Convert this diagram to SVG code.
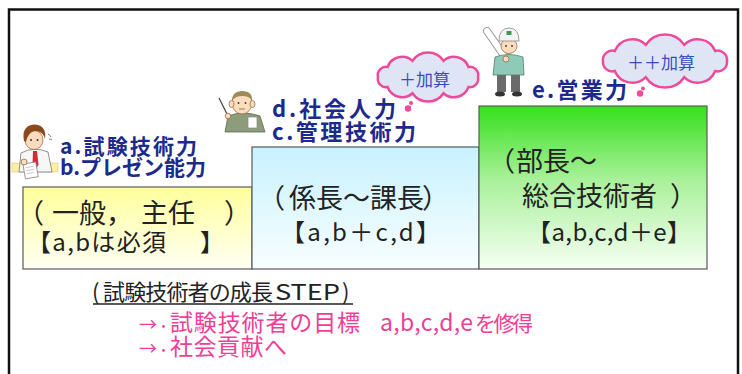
<svg xmlns="http://www.w3.org/2000/svg" width="742" height="374" viewBox="0 0 742 374">
  <defs>
    <linearGradient id="gradYellow" x1="0" y1="0" x2="0" y2="1">
      <stop offset="0" stop-color="#ffff9c"/>
      <stop offset="1" stop-color="#fffff4"/>
    </linearGradient>
    <linearGradient id="gradCyan" x1="0" y1="0" x2="0" y2="1">
      <stop offset="0" stop-color="#c8f2ff"/>
      <stop offset="1" stop-color="#f8feff"/>
    </linearGradient>
    <linearGradient id="gradGreen" x1="0" y1="0" x2="0" y2="1">
      <stop offset="0" stop-color="#36e01c"/>
      <stop offset="0.45" stop-color="#a9f09a"/>
      <stop offset="1" stop-color="#f6fff4"/>
    </linearGradient>
    <style>
      text { font-family: 'Noto Sans CJK JP', 'Noto Sans', sans-serif; }
      .step { stroke: #5a5a5a; stroke-width: 1.2; }
      .lbl { font-weight: 700; fill: #1d2a8c; font-size: 21px; }
      .lbl-d { font-weight: 700; fill: #1d2a8c; font-size: 22px; }
      .big { fill: #222; font-size: 27px; }
      .mid { fill: #222; font-size: 24px; }
      .cloud { fill: #dfe5f5; stroke: #ee4a9a; stroke-width: 2.5; }
      .tail { fill: #ee4a9a; }
      .ctxt { fill: #3b4cc0; font-size: 17px; }
      .note { fill: #222; font-size: 22px; }
      .pink { fill: #ef3e96; font-size: 23px; }
      .skin { fill: #fbdcbd; stroke: #8a5e3c; stroke-width: 0.7; }
    </style>
  </defs>

  <rect width="742" height="374" fill="#ffffff"/>
  <!-- outer frame (bottom edge runs off the canvas) -->
  <rect id="frame" x="9" y="9.5" width="729" height="380" fill="none" stroke="#111" stroke-width="2.5"/>

  <!-- step 1: general staff -->
  <g id="step-general">
    <rect class="step" x="23" y="187" width="229" height="82" fill="url(#gradYellow)"/>
    <text class="big" y="223" font-size="28"><tspan x="17">（</tspan><tspan x="52">一般，</tspan><tspan x="141">主任</tspan><tspan x="224">）</tspan></text>
    <text class="mid" y="251"><tspan x="27" textLength="139" lengthAdjust="spacing">【a,bは必須</tspan><tspan x="200">】</tspan></text>
  </g>

  <!-- step 2: chief / section head -->
  <g id="step-chief">
    <rect class="step" x="252" y="147" width="227" height="122" fill="url(#gradCyan)"/>
    <text class="big" y="208"><tspan x="258">（</tspan><tspan x="289">係長～課長</tspan><tspan x="422">）</tspan></text>
    <text class="mid" x="281" y="241" textLength="159" lengthAdjust="spacing">【a,b＋c,d】</text>
  </g>

  <!-- step 3: department head / chief engineer -->
  <g id="step-manager">
    <rect class="step" x="479" y="106" width="228" height="163" fill="url(#gradGreen)"/>
    <text class="big" y="171" font-size="26"><tspan x="488">（</tspan><tspan x="516">部長～</tspan></text>
    <text class="big" y="206" font-size="26"><tspan x="522">総合技術者</tspan><tspan x="670">）</tspan></text>
    <text class="mid" x="527" y="241" font-size="23" textLength="164" lengthAdjust="spacing">【a,b,c,d＋e】</text>
  </g>

  <!-- skill labels -->
  <g id="skills-ab">
    <text class="lbl" x="60" y="154" textLength="137" lengthAdjust="spacing">a.試験技術力</text>
    <text class="lbl" x="60" y="175" font-size="20">b.プレゼン能力</text>
  </g>
  <g id="skills-cd">
    <text class="lbl-d" x="272" y="117" textLength="124" lengthAdjust="spacing">d.社会人力</text>
    <text class="lbl-d" x="272" y="140" textLength="144" lengthAdjust="spacing">c.管理技術力</text>
  </g>
  <g id="skill-e">
    <text class="lbl-d" x="532" y="98" textLength="95" lengthAdjust="spacing">e.営業力</text>
  </g>

  <!-- thought clouds -->
  <g id="cloud-plus">
    <path class="cloud" d="M478,77 A8.3,8.3 0 0 1 468.5,87 A15.5,15.5 0 0 1 443.5,93.2 A18.6,18.6 0 0 1 412.5,93.2 A15.5,15.5 0 0 1 387.6,87 A8.3,8.3 0 0 1 378,77 A8.3,8.3 0 0 1 387.6,67 A15.5,15.5 0 0 1 412.5,60.8 A18.6,18.6 0 0 1 443.5,60.8 A15.5,15.5 0 0 1 468.5,67 A8.3,8.3 0 0 1 478,77 Z"/>
    <circle class="tail" cx="411" cy="103" r="2"/>
    <circle class="tail" cx="408" cy="108.5" r="3.2"/>
    <text class="ctxt" x="399" y="85.5">＋加算</text>
  </g>
  <g id="cloud-plusplus">
    <path class="cloud" d="M727,61 A9.3,9.3 0 0 1 715.2,71 A19,19 0 0 1 684.2,77.2 A23,23 0 0 1 645.8,77.2 A19,19 0 0 1 614.8,71 A9.3,9.3 0 0 1 603,61 A9.3,9.3 0 0 1 614.8,51 A19,19 0 0 1 645.8,44.8 A23,23 0 0 1 684.2,44.8 A19,19 0 0 1 715.2,51 A9.3,9.3 0 0 1 727,61 Z"/>
    <circle class="tail" cx="643" cy="88.5" r="2"/>
    <circle class="tail" cx="640" cy="93.5" r="3.2"/>
    <text class="ctxt" x="627" y="69">＋＋加算</text>
  </g>

  <!-- figure: young engineer at a desk -->
  <g id="fig-staff">
    <rect x="12" y="163" width="46" height="9" fill="#fbf0a4" stroke="#d9c878" stroke-width="0.6"/>
    <path d="M19,172 L21,153 Q34,146 48,152 L52,172 Z" fill="#f7f7f7" stroke="#777" stroke-width="0.8"/>
    <path d="M33,151 L37,151 L38.5,165 L35.5,169 L32.5,165 Z" fill="#d52a36"/>
    <ellipse class="skin" cx="34" cy="140" rx="9" ry="9.5"/>
    <path d="M24,141 Q21,126 34,124.5 Q47,125 45,139 Q43,131 35,131 Q28,132 26,142 Z" fill="#8c4a1c"/>
    <circle cx="31" cy="140" r="1" fill="#333"/>
    <circle cx="37.5" cy="140" r="1" fill="#333"/>
    <path d="M48,134 q2,1 3,3 M49,139 q2,0 3,1" fill="none" stroke="#555" stroke-width="0.8"/>
    <rect x="24" y="163" width="13" height="15" fill="#fff" stroke="#888" stroke-width="0.8" transform="rotate(-10 30 170)"/>
    <path d="M26,167 h8 M26,170 h8 M26,173 h7" stroke="#aaa" stroke-width="0.6" transform="rotate(-10 30 170)"/>
    <circle class="skin" cx="24" cy="162" r="3"/>
  </g>

  <!-- figure: senior engineer with pointer -->
  <g id="fig-senior">
    <path d="M225,132 L228,116 Q243,110 260,116 L265,132 Z" fill="#8d9c7b" stroke="#5d6a50" stroke-width="0.8"/>
    <ellipse class="skin" cx="242" cy="103" rx="10" ry="11"/>
    <ellipse class="skin" cx="231.5" cy="104" rx="2.5" ry="3.5"/>
    <ellipse class="skin" cx="252.5" cy="104" rx="2.5" ry="3.5"/>
    <path d="M232,101 Q232,91 242,91 Q253,91 252,101 Q250,96 242,96 Q235,96 232,101 Z" fill="#9c8c5a"/>
    <circle cx="238.5" cy="103" r="0.9" fill="#333"/>
    <circle cx="245.5" cy="103" r="0.9" fill="#333"/>
    <path d="M239,109 h6" stroke="#8a5e3c" stroke-width="0.8"/>
    <rect x="248" y="117" width="9" height="11" fill="#fff" stroke="#888" stroke-width="0.7"/>
    <line x1="219" y1="98" x2="228" y2="116" stroke="#444" stroke-width="1.2"/>
    <circle class="skin" cx="228" cy="116" r="2.8"/>
  </g>

  <!-- figure: site worker with rolled drawing -->
  <g id="fig-worker">
    <line x1="487" y1="31" x2="507" y2="60" stroke="#999" stroke-width="8" stroke-linecap="round"/>
    <line x1="487" y1="31" x2="507" y2="60" stroke="#fff" stroke-width="6" stroke-linecap="round"/>
    <path d="M493,75 L495,57 Q509,52 523,57 L524,75 Z" fill="#8fcab8" stroke="#4f7f70" stroke-width="0.8"/>
    <ellipse class="skin" cx="509" cy="46" rx="8" ry="7.5"/>
    <path d="M499,41 Q499,28 509,28 Q519,28 519,41 Z" fill="#f4f4f4" stroke="#888" stroke-width="0.8"/>
    <rect x="506.5" y="31" width="5" height="4" fill="#3a9a5a"/>
    <circle cx="506" cy="46" r="0.9" fill="#333"/>
    <circle cx="512" cy="46" r="0.9" fill="#333"/>
    <circle class="skin" cx="506" cy="59" r="3"/>
    <rect x="497" y="75" width="9" height="17" fill="#6b6b6b"/>
    <rect x="511" y="75" width="9" height="17" fill="#6b6b6b"/>
    <ellipse cx="500" cy="94" rx="5" ry="2.5" fill="#333"/>
    <ellipse cx="517" cy="94" rx="5" ry="2.5" fill="#333"/>
  </g>

  <!-- summary -->
  <g id="summary">
    <text class="note" y="300"><tspan x="92">(</tspan><tspan x="103" textLength="170" lengthAdjust="spacing">試験技術者の成長</tspan><tspan x="275" textLength="65" lengthAdjust="spacingAndGlyphs">STEP</tspan><tspan x="342">)</tspan></text>
    <line x1="93" y1="304" x2="353" y2="304" stroke="#222" stroke-width="1.5"/>
    <text class="pink" y="331"><tspan x="139" font-size="18">→</tspan><tspan x="157" font-size="13">・</tspan><tspan x="170" textLength="190" lengthAdjust="spacing">試験技術者の目標</tspan><tspan x="380" textLength="93" lengthAdjust="spacing">a,b,c,d,e</tspan><tspan x="475" font-size="21" textLength="58" lengthAdjust="spacing">を修得</tspan></text>
    <text class="pink" y="355"><tspan x="139" font-size="18">→</tspan><tspan x="157" font-size="13">・</tspan><tspan x="170" textLength="117" lengthAdjust="spacing">社会貢献へ</tspan></text>
  </g>
</svg>
